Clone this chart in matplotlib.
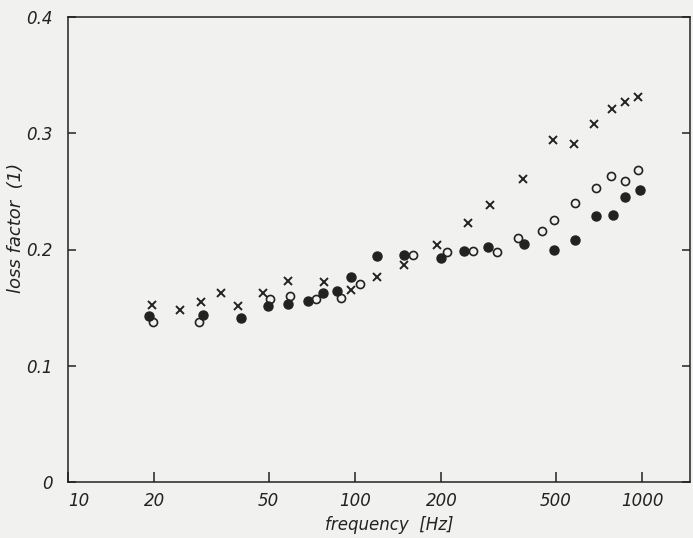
import matplotlib
matplotlib.use('Agg')
import matplotlib.pyplot as plt
from matplotlib.ticker import NullLocator

# --- data (frequency in Hz, loss factor) ---
filled_f = [19.2, 29.6, 40.2, 49.6, 58.3, 68.5, 77.3, 86.3, 96.6, 119.7, 147.6, 199.5,
            240.5, 290, 387, 494, 586, 689, 794, 875, 985]
filled_v = [0.143, 0.144, 0.141, 0.151, 0.153, 0.156, 0.163, 0.164, 0.176, 0.194, 0.195, 0.193,
            0.199, 0.202, 0.205, 0.200, 0.208, 0.229, 0.230, 0.245, 0.251]

open_f = [19.7, 28.6, 50.4, 59.2, 73.3, 89.6, 104, 159, 210, 257, 312, 370, 449, 494,
          586, 689, 780, 875, 971]
open_v = [0.1375, 0.138, 0.157, 0.160, 0.157, 0.158, 0.170, 0.195, 0.198, 0.199, 0.198,
          0.210, 0.216, 0.225, 0.240, 0.253, 0.263, 0.259, 0.268]

cross_f = [19.6, 24.5, 29.0, 34.2, 39.0, 47.7, 58.5, 77.9, 96.6, 119.7, 148.6, 193, 247,
           296, 385, 488, 580, 682, 789, 873, 966]
cross_v = [0.152, 0.148, 0.155, 0.163, 0.151, 0.163, 0.173, 0.172, 0.165, 0.176, 0.187,
           0.204, 0.223, 0.2385, 0.261, 0.294, 0.291, 0.308, 0.321, 0.327, 0.331]

x_ticks = [10, 20, 50, 100, 200, 500, 1000]
y_ticks = [0, 0.1, 0.2, 0.3, 0.4]
y_labels = ['0', '0.1', '0.2', '0.3', '0.4']

INK = '#222222'
PAPER = '#f1f1ef'
W, H = 693, 538

plt.rcParams['font.family'] = ['Liberation Sans Narrow', 'DejaVu Sans']
txt = dict(fontsize=12, style='italic', color=INK)

fig = plt.figure(figsize=(W / 100, H / 100), dpi=100, facecolor=PAPER)
# axes box: x 68..690 px, y 17..482 px
ax = fig.add_axes([68 / W, 1 - 482 / H, (690 - 68) / W, (482 - 17) / H])
ax.set_facecolor(PAPER)

ax.plot(filled_f, filled_v, 'o', ms=6.5, color=INK, mec=INK, ls='none')
ax.plot(open_f, open_v, 'o', ms=5.8, mfc='none', mec=INK, mew=1.2, ls='none')
ax.plot(cross_f, cross_v, 'x', ms=5.8, color=INK, mew=1.4, ls='none')

ax.set_xscale('log')
ax.set_xlim(10, 1470)
ax.set_ylim(0, 0.4)
ax.xaxis.set_minor_locator(NullLocator())
ax.set_xticks(x_ticks)
xl = ax.set_xticklabels([str(t) for t in x_ticks], **txt)
xl[0].set_horizontalalignment('left')
ax.set_yticks(y_ticks)
ax.set_yticklabels(y_labels, **txt)

for s in ax.spines.values():
    s.set_linewidth(1.1)
    s.set_color(INK)

ax.tick_params(axis='x', direction='in', length=7, width=1.1, pad=7, colors=INK)
ax.tick_params(axis='y', direction='in', length=6, width=1.1, pad=11, colors=INK,
               right=True)

fig.text(389 / W, 1 - 525 / H, 'frequency  [Hz]', ha='center', va='center', **txt)
fig.text(16 / W, 1 - 228 / H, 'loss factor  (1)', ha='center', va='center',
         rotation=90, fontsize=13, style='italic', color=INK)

fig.savefig('out.png', dpi=100, facecolor=PAPER)
